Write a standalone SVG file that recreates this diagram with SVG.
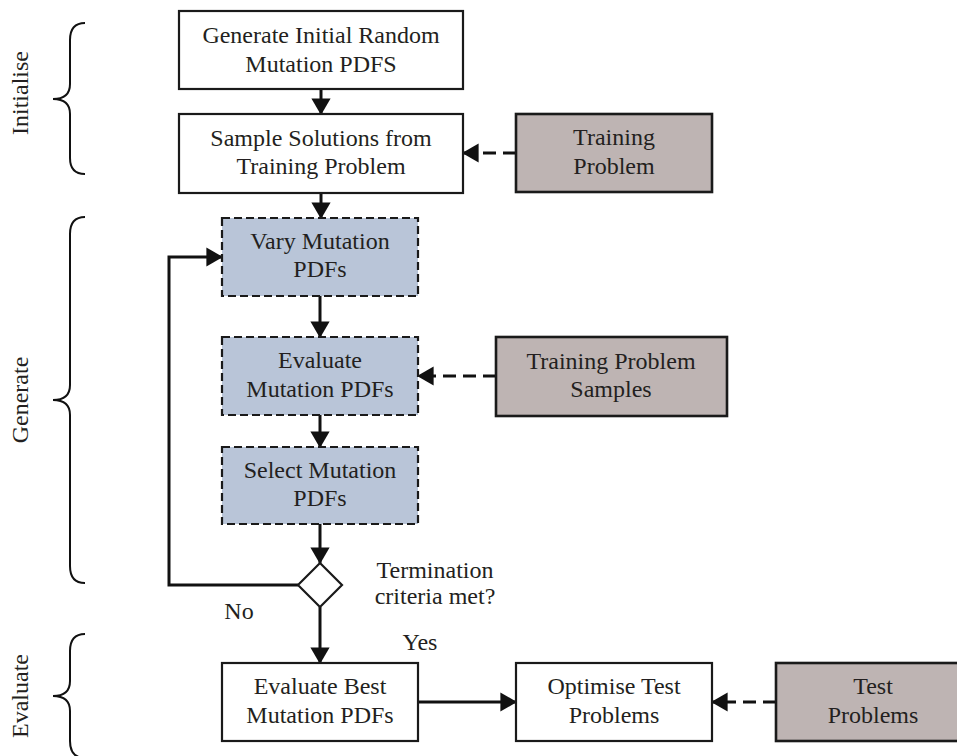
<svg xmlns="http://www.w3.org/2000/svg" width="957" height="756" viewBox="0 0 957 756">
<defs>
<marker id="ah" markerWidth="5.5" markerHeight="6.4" refX="5.2" refY="3.2" orient="auto" markerUnits="strokeWidth">
<path d="M0,0 L5.5,3.2 L0,6.4 Z" fill="#111"/>
</marker>
<style>
text{font-family:"Liberation Serif","Times New Roman",serif;font-size:24px;fill:#231f20;text-anchor:middle}
.w{fill:#fff;stroke:#1a1a1a;stroke-width:2.2}
.b{fill:#b9c5d8;stroke:#1a1a1a;stroke-width:2.2;stroke-dasharray:8 4}
.g{fill:#beb4b3;stroke:#1a1a1a;stroke-width:2.6}
.c{fill:none;stroke:#111;stroke-width:3;marker-end:url(#ah)}
.d{fill:none;stroke:#111;stroke-width:3;stroke-dasharray:13 7;marker-end:url(#ah)}
.br{fill:none;stroke:#111;stroke-width:2}
</style>
</defs>
<rect width="957" height="756" fill="#fff"/>
<g id="braces">
<path class="br" d="M85,23 Q70,23 70,40 L70,84 Q70,99 53,99 Q70,99 70,114 L70,158 Q70,174 85,174"/>
<path class="br" d="M85,217 Q70,217 70,234 L70,385 Q70,400 53,400 Q70,400 70,415 L70,566 Q70,583 85,583"/>
<path class="br" d="M85,634 Q70,634 70,651 L70,681 Q70,696 53,696 Q70,696 70,711 L70,741 Q70,758 85,758"/>
<text transform="translate(28,93) rotate(-90)">Initialise</text>
<text transform="translate(28,400) rotate(-90)">Generate</text>
<text transform="translate(28,696) rotate(-90)">Evaluate</text>
</g>
<g id="connectors">
<path class="c" d="M321,89 L321,114"/>
<path class="c" d="M321,193 L321,218"/>
<path class="c" d="M320,296 L320,337"/>
<path class="c" d="M320,415 L320,447"/>
<path class="c" d="M320,524 L320,563"/>
<path class="c" d="M320,607 L320,663"/>
<path class="c" d="M298,585 L169,585 L169,257 L222,257"/>
<path class="c" d="M418,702 L516,702"/>
<path class="d" d="M516,153 L463,153"/>
<path class="d" d="M496,376 L418,376"/>
<path class="d" d="M776,702 L712,702"/>
</g>
<g id="n1"><rect class="w" x="179" y="11" width="284" height="78"/><text x="321" y="43">Generate Initial Random</text><text x="321" y="72">Mutation PDFS</text></g>
<g id="n2"><rect class="w" x="179" y="114" width="284" height="79"/><text x="321" y="146">Sample Solutions from</text><text x="321" y="174">Training Problem</text></g>
<g id="tp"><rect class="g" x="516" y="114" width="196" height="78"/><text x="614" y="145">Training</text><text x="614" y="174">Problem</text></g>
<g id="vary"><rect class="b" x="222" y="218" width="196" height="78"/><text x="320" y="249">Vary Mutation</text><text x="320" y="277">PDFs</text></g>
<g id="eval"><rect class="b" x="222" y="337" width="196" height="78"/><text x="320" y="368">Evaluate</text><text x="320" y="397">Mutation PDFs</text></g>
<g id="tps"><rect class="g" x="496" y="337" width="231" height="79"/><text x="611" y="369">Training Problem</text><text x="611" y="397">Samples</text></g>
<g id="select"><rect class="b" x="222" y="447" width="196" height="77"/><text x="320" y="478">Select Mutation</text><text x="320" y="506">PDFs</text></g>
<g id="term"><path d="M320,563 L342,585 L320,607 L298,585 Z" fill="#fff" stroke="#1a1a1a" stroke-width="2.2"/><text x="435" y="578">Termination</text><text x="435" y="604">criteria met?</text><text x="239" y="619">No</text><text x="420" y="650">Yes</text></g>
<g id="best"><rect class="w" x="222" y="663" width="196" height="78"/><text x="320" y="694">Evaluate Best</text><text x="320" y="723">Mutation PDFs</text></g>
<g id="opt"><rect class="w" x="516" y="663" width="196" height="78"/><text x="614" y="694">Optimise Test</text><text x="614" y="723">Problems</text></g>
<g id="test"><rect class="g" x="776" y="663" width="186" height="78"/><text x="873" y="694">Test</text><text x="873" y="723">Problems</text></g>
</svg>
